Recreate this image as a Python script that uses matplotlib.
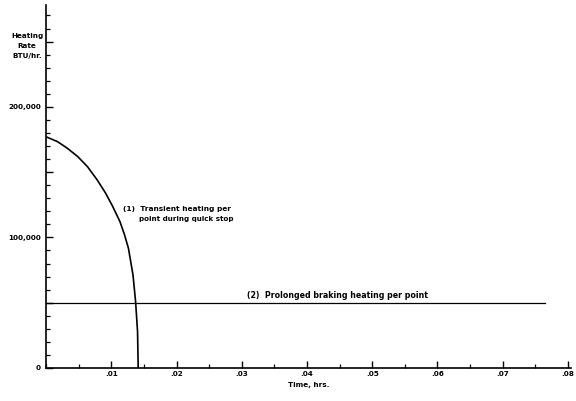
import matplotlib
matplotlib.use("Agg")
import matplotlib.pyplot as plt
from matplotlib.ticker import MultipleLocator, FuncFormatter

# Curve (1): transient heating per point during quick stop
transient_time = [0.0, 0.0017, 0.0032, 0.0048, 0.0063, 0.0078, 0.0091, 0.0102,
                  0.0113, 0.0120, 0.0126, 0.0133, 0.0137, 0.0140, 0.0141]
transient_rate = [177000, 173400, 168400, 162000, 154300, 144100, 133900, 123600,
                  112100, 102000, 91700, 71300, 50800, 27800, 0]

# Line (2): prolonged braking heating per point
prolonged_time = [0.0, 0.0765]
prolonged_rate = [50000, 50000]

x_tick_values = [0.01, 0.02, 0.03, 0.04, 0.05, 0.06, 0.07, 0.08]
x_tick_labels = [".01", ".02", ".03", ".04", ".05", ".06", ".07", ".08"]
y_tick_values = [0, 100000, 200000]
y_tick_labels = ["0", "100,000", "200,000"]

plt.rcParams['font.family'] = ['DejaVu Sans']
fig = plt.figure(figsize=(5.76, 4.01), dpi=100)
ax = fig.add_axes([46.3 / 576, 1 - 368 / 401, (571 - 46.3) / 576, (368 - 5) / 401])

ax.plot(transient_time, transient_rate, color="black", lw=1.2,
        solid_capstyle="butt", solid_joinstyle="round")
ax.plot(prolonged_time, prolonged_rate, color="black", lw=0.9)

ax.set_xlim(0, 0.0805)
ax.set_ylim(0, 278000)

for s in ["top", "right"]:
    ax.spines[s].set_visible(False)
for s in ["left", "bottom"]:
    ax.spines[s].set_linewidth(1.2)

ax.set_xticks(x_tick_values)
ax.set_xticklabels(x_tick_labels, fontsize=5.2, fontweight="bold")
ax.xaxis.set_minor_locator(MultipleLocator(0.005))

ax.yaxis.set_major_locator(MultipleLocator(50000))
lab = dict(zip(y_tick_values, y_tick_labels))
ax.yaxis.set_major_formatter(FuncFormatter(lambda v, p: lab.get(int(round(v)), "")))
ax.yaxis.set_minor_locator(MultipleLocator(10000))
for t in ax.get_yticklabels():
    t.set_fontsize(5.2)
    t.set_fontweight("bold")

ax.tick_params(axis="both", which="major", direction="in", length=5, width=1.0, pad=4)
ax.tick_params(axis="x", which="major", pad=2.5)
ax.tick_params(axis="both", which="minor", direction="in", length=3, width=0.9)

ax.set_xlabel("Time, hrs.", fontsize=5.2, fontweight="bold", labelpad=2)
ax.xaxis.set_label_coords((309 - 46.3) / (571 - 46.3), -(382 - 368) / (368 - 5))

fig.text(27 / 576, 1 - 46 / 401, "Heating\nRate\nBTU/hr.", ha="center", va="center",
         fontsize=5.2, fontweight="bold", linespacing=1.85)

ax.text(0.01172, 121800, "(1)  Transient heating per", fontsize=5.3, fontweight="bold",
        ha="left", va="center")
ax.text(0.01426, 113900, "point during quick stop", fontsize=5.1, fontweight="bold",
        ha="left", va="center")
ax.text(0.03073, 55400, "(2)  Prolonged braking heating per point", fontsize=5.7,
        fontweight="bold", ha="left", va="center")

fig.savefig("out.png", dpi=100)
